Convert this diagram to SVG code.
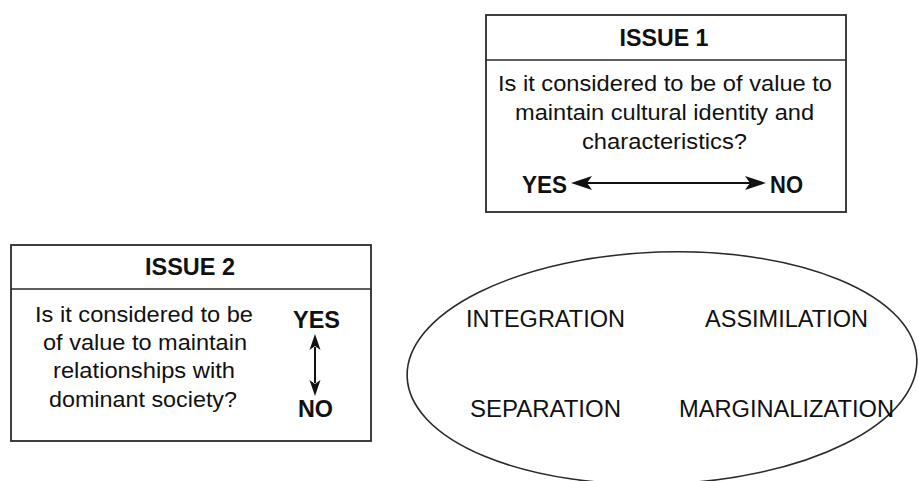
<svg xmlns="http://www.w3.org/2000/svg" width="918" height="481" viewBox="0 0 918 481">
<style>
  .box { fill: #fff; stroke: #2a2a2a; stroke-width: 1.8; }
  .div { stroke: #2a2a2a; stroke-width: 1.6; }
  .hdr { font-family: "Liberation Sans", Arial, sans-serif; font-weight: bold; font-size: 23px; fill: #111; text-anchor: middle; }
  .body { font-family: "Liberation Sans", Arial, sans-serif; font-size: 22px; fill: #111; text-anchor: middle; }
  .lbl { font-family: "Liberation Sans", Arial, sans-serif; font-size: 23px; fill: #111; text-anchor: middle; }
  .arr { stroke: #111; stroke-width: 2; fill: none; }
  .head { fill: #111; }
</style>
<rect width="918" height="481" fill="#fff"/>

<g id="issue1">
  <rect class="box" x="486" y="15" width="360" height="197"/>
  <line class="div" x1="486" y1="60" x2="846" y2="60"/>
  <text class="hdr" x="664" y="46" textLength="89" lengthAdjust="spacingAndGlyphs">ISSUE 1</text>
  <text class="body" x="665" y="91" textLength="334" lengthAdjust="spacingAndGlyphs">Is it considered to be of value to</text>
  <text class="body" x="664.5" y="120" textLength="299" lengthAdjust="spacingAndGlyphs">maintain cultural identity and</text>
  <text class="body" x="664.5" y="149" textLength="165" lengthAdjust="spacingAndGlyphs">characteristics?</text>
  <text class="hdr" x="544.5" y="193" textLength="45" lengthAdjust="spacingAndGlyphs">YES</text>
  <text class="hdr" x="786.5" y="193" textLength="33" lengthAdjust="spacingAndGlyphs">NO</text>
</g>

<g id="issue2">
  <rect class="box" x="11" y="245" width="360" height="196"/>
  <line class="div" x1="11" y1="289" x2="371" y2="289"/>
  <text class="hdr" x="190" y="275" textLength="90" lengthAdjust="spacingAndGlyphs">ISSUE 2</text>
  <text class="body" x="144" y="322" textLength="218" lengthAdjust="spacingAndGlyphs">Is it considered to be</text>
  <text class="body" x="145" y="350" textLength="204" lengthAdjust="spacingAndGlyphs">of value to maintain</text>
  <text class="body" x="144" y="378" textLength="182" lengthAdjust="spacingAndGlyphs">relationships with</text>
  <text class="body" x="143" y="407" textLength="188" lengthAdjust="spacingAndGlyphs">dominant society?</text>
  <text class="hdr" x="316.5" y="328" textLength="47" lengthAdjust="spacingAndGlyphs">YES</text>
  <text class="hdr" x="315.5" y="417" textLength="35" lengthAdjust="spacingAndGlyphs">NO</text>
</g>

<g id="strategies">
  <ellipse cx="662" cy="368" rx="255" ry="116" fill="none" stroke="#2a2a2a" stroke-width="1.6" transform="rotate(-2 662 368)"/>
  <text class="lbl" x="545.5" y="327" textLength="159" lengthAdjust="spacingAndGlyphs">INTEGRATION</text>
  <text class="lbl" x="786.5" y="327" textLength="163" lengthAdjust="spacingAndGlyphs">ASSIMILATION</text>
  <text class="lbl" x="545.5" y="417" textLength="151" lengthAdjust="spacingAndGlyphs">SEPARATION</text>
  <text class="lbl" x="786.5" y="417" textLength="215" lengthAdjust="spacingAndGlyphs">MARGINALIZATION</text>
</g>

<g id="connectors">
  <line class="arr" x1="586" y1="183" x2="751" y2="183"/>
  <path class="head" d="M571,183 L592,176 L587,183 L592,190 Z"/>
  <path class="head" d="M766,183 L745,176 L750,183 L745,190 Z"/>
  <line class="arr" x1="315" y1="347" x2="315" y2="383"/>
  <path class="head" d="M315,334 L309.5,350 L315,346 L320.5,350 Z"/>
  <path class="head" d="M315,396 L309.5,380 L315,384 L320.5,380 Z"/>
</g>
</svg>
